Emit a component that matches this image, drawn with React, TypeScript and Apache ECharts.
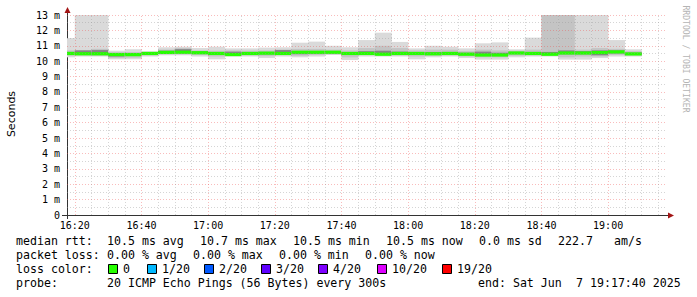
import React, { useEffect, useRef } from "react";
import * as echarts from "echarts";

// ---- data ----
const START_TIME = "16:17:40";
const END_TIME = "19:17:40";
const STEP_MIN = 5;

const stepStarts = [
  "16:15", "16:20", "16:25", "16:30", "16:35", "16:40", "16:45", "16:50", "16:55",
  "17:00", "17:05", "17:10", "17:15", "17:20", "17:25", "17:30", "17:35", "17:40",
  "17:45", "17:50", "17:55", "18:00", "18:05", "18:10", "18:15", "18:20", "18:25",
  "18:30", "18:35", "18:40", "18:45", "18:50", "18:55", "19:00", "19:05",
];
// median rtt (ms)
const medians = [
  10.5, 10.48, 10.48, 10.43, 10.42, 10.5, 10.57, 10.58, 10.55,
  10.5, 10.43, 10.5, 10.52, 10.5, 10.58, 10.58, 10.58, 10.5,
  10.5, 10.45, 10.5, 10.5, 10.48, 10.5, 10.45, 10.4, 10.4,
  10.53, 10.5, 10.45, 10.53, 10.53, 10.56, 10.6, 10.47,
];
// smoke: lowest / highest ping (ms)
const mins = [
  10.25, 10.3, 10.3, 10.12, 10.12, 10.3, 10.38, 10.38, 10.3,
  10.12, 10.3, 10.3, 10.2, 10.3, 10.25, 10.3, 10.4, 10.07,
  10.3, 10.3, 10.3, 10.12, 10.25, 10.3, 10.2, 10.1, 10.1,
  10.25, 10.3, 10.3, 10.1, 10.1, 10.2, 10.3, 10.3,
];
const maxs = [
  11.5, 13.4, 13.4, 10.68, 10.77, 10.64, 10.9, 10.94, 10.85,
  10.94, 10.83, 10.83, 10.88, 10.9, 11.2, 11.27, 11.0, 10.9,
  11.37, 11.85, 11.25, 10.83, 11.0, 10.94, 10.83, 11.16, 11.22,
  10.77, 11.53, 13.4, 13.4, 13.4, 13.4, 11.37, 10.77,
];
// smoke: second band
const lo1 = [
  10.35, 10.38, 10.35, 10.2, 10.22, 10.38, 10.45, 10.45, 10.4,
  10.3, 10.36, 10.38, 10.32, 10.4, 10.35, 10.4, 10.45, 10.25,
  10.4, 10.38, 10.38, 10.3, 10.35, 10.38, 10.3, 10.25, 10.25,
  10.35, 10.38, 10.35, 10.25, 10.3, 10.3, 10.4, 10.38,
];
const hi1 = [
  10.7, 10.72, 10.8, 10.58, 10.6, 10.6, 10.75, 10.85, 10.7,
  10.68, 10.7, 10.68, 10.7, 10.75, 10.8, 10.8, 10.75, 10.7,
  10.85, 11.0, 10.85, 10.7, 10.75, 10.75, 10.65, 10.75, 10.7,
  10.68, 10.75, 13.4, 13.4, 10.75, 10.85, 10.8, 10.65,
];
// smoke: inner band
const lo2 = [
  10.45, 10.42, 10.42, 10.3, 10.36, 10.45, 10.5, 10.52, 10.48,
  10.42, 10.4, 10.45, 10.45, 10.45, 10.45, 10.48, 10.5, 10.42,
  10.45, 10.42, 10.45, 10.45, 10.42, 10.45, 10.4, 10.35, 10.35,
  10.48, 10.45, 10.4, 10.45, 10.45, 10.38, 10.5, 10.42,
];
const hi2 = [
  10.6, 10.7, 10.72, 10.5, 10.5, 10.55, 10.68, 10.78, 10.62,
  10.58, 10.62, 10.58, 10.6, 10.72, 10.65, 10.65, 10.65, 10.58,
  10.65, 10.68, 10.62, 10.58, 10.6, 10.6, 10.55, 10.62, 10.55,
  10.6, 10.6, 10.6, 10.7, 10.65, 10.7, 10.7, 10.55,
];

const xTickLabels = ["16:20", "16:40", "17:00", "17:20", "17:40", "18:00", "18:20", "18:40", "19:00"];
const yMax = 13;

const rttRow = [
  ["median rtt:", 16],
  ["10.5 ms avg", 107],
  ["10.7 ms max", 200],
  ["10.5 ms min", 293],
  ["10.5 ms now", 386],
  ["0.0 ms sd", 479],
  ["222.7", 558],
  ["am/s", 614],
];
const lossRow = [
  ["packet loss:", 16],
  ["0.00 % avg", 107],
  ["0.00 % max", 193],
  ["0.00 % min", 279],
  ["0.00 % now", 365],
];
const lossColorLabels = ["0", "1/20", "2/20", "3/20", "4/20", "10/20", "19/20"];
const lossColors = ["#26ff00", "#00b8ff", "#0059ff", "#5e00ff", "#7e00ff", "#dd00ff", "#ff0000"];
const lossBoxX = [108, 147, 204, 261, 318, 377, 442];
const probeRow = [
  ["probe:", 16],
  ["20 ICMP Echo Pings (56 Bytes) every 300s", 107],
  ["end: Sat Jun", 478],
  ["7 19:17:40 2025", 576],
];

// ---- helpers ----
const toMin = (s: string) => {
  const p = s.split(":").map(Number);
  return p[0] * 60 + p[1] + (p[2] || 0) / 60;
};
const fmtMin = (v: number) => {
  const h = Math.floor(v / 60);
  const m = Math.round(v - h * 60);
  return `${h}:${m < 10 ? "0" : ""}${m}`;
};

const MONO = "DejaVu Sans Mono";

export default function App() {
  const ref = useRef<HTMLDivElement>(null);

  useEffect(() => {
    if (!ref.current) return;
    const chart = echarts.init(ref.current, null, { renderer: "svg" });
    const xMin = toMin(START_TIME);
    const xMax = toMin(END_TIME);
    const majorX = xTickLabels.map(toMin);
    const minorX: number[] = [];
    for (let t = Math.ceil(xMin / STEP_MIN) * STEP_MIN; t < xMax; t += STEP_MIN) {
      if (!majorX.includes(t)) minorX.push(t);
    }
    const majorY: number[] = [];
    const minorY: number[] = [];
    for (let v = 1; v <= yMax; v++) majorY.push(v);
    for (let v = 0.5; v < yMax; v += 1) minorY.push(v);

    const majorColor = "rgba(240,80,80,0.38)";
    const minorColor = "rgba(150,150,150,0.4)";
    const dash = [1, 2];

    const smokeData = stepStarts.map((t, i) => [
      toMin(t), mins[i], lo1[i], lo2[i], medians[i], hi2[i], hi1[i], maxs[i],
    ]);

    const bands: [number, number, string][] = [
      [1, 7, "#dadada"],
      [2, 6, "#c4c4c4"],
      [3, 5, "#858585"],
    ];

    const legendText = (text: string, x: number, y: number) => ({
      type: "text",
      x,
      y,
      silent: true,
      style: { text, fill: "#000", font: `11.6px '${MONO}'`, verticalAlign: "middle", align: "left" },
    });

    const graphics: any[] = [];
    rttRow.forEach(([t, x]) => graphics.push(legendText(t as string, x as number, 241)));
    lossRow.forEach(([t, x]) => graphics.push(legendText(t as string, x as number, 255)));
    graphics.push(legendText("loss color:", 16, 269));
    lossColorLabels.forEach((lab, i) => {
      graphics.push({
        type: "rect",
        silent: true,
        shape: { x: lossBoxX[i] + 0.5, y: 264.5, width: 9, height: 9 },
        style: { fill: lossColors[i], stroke: "#000", lineWidth: 1 },
      });
      graphics.push(legendText(lab, lossBoxX[i] + 15, 269));
    });
    probeRow.forEach(([t, x]) => graphics.push(legendText(t as string, x as number, 283)));

    // axes lines and arrows
    graphics.push({ type: "line", silent: true, shape: { x1: 62, y1: 215.5, x2: 669, y2: 215.5 }, style: { stroke: "#333", lineWidth: 1 } });
    graphics.push({ type: "line", silent: true, shape: { x1: 67.5, y1: 219, x2: 67.5, y2: 12 }, style: { stroke: "#333", lineWidth: 1 } });
    graphics.push({ type: "polygon", silent: true, shape: { points: [[64.5, 13], [70.5, 13], [67.5, 7]] }, style: { fill: "#a31515" } });
    graphics.push({ type: "polygon", silent: true, shape: { points: [[668, 212.5], [668, 218.5], [674, 215.5]] }, style: { fill: "#a31515" } });

    graphics.push({
      type: "text",
      x: 11,
      y: 114,
      rotation: Math.PI / 2,
      silent: true,
      style: { text: "Seconds", fill: "#000", font: "11px 'DejaVu Sans'", align: "center", verticalAlign: "middle" },
    });
    graphics.push({
      type: "text",
      x: 686,
      y: 59,
      rotation: -Math.PI / 2,
      silent: true,
      style: { text: "RRDTOOL / TOBI OETIKER", fill: "#b4b4b4", font: `8.1px '${MONO}'`, align: "center", verticalAlign: "middle" },
    });

    const markData: any[] = [];
    minorY.forEach((v) => markData.push({ yAxis: v, lineStyle: { color: minorColor, type: dash, width: 1 } }));
    majorY.forEach((v) => markData.push({ yAxis: v, lineStyle: { color: majorColor, type: dash, width: 1 } }));
    minorX.forEach((v) => markData.push({ xAxis: v, lineStyle: { color: minorColor, type: dash, width: 1 } }));
    majorX.forEach((v) => markData.push({ xAxis: v, lineStyle: { color: majorColor, type: dash, width: 1 } }));

    chart.setOption({
      animation: false,
      backgroundColor: "#fff",
      textStyle: { fontFamily: MONO },
      grid: { left: 67, top: 15, width: 600, height: 200, containLabel: false },
      xAxis: {
        type: "value",
        min: xMin,
        max: xMax,
        splitNumber: 9,
        axisLine: { show: false },
        axisTick: { show: false },
        splitLine: { show: false },
        axisLabel: {
          customValues: majorX,
          formatter: (v: number) => fmtMin(v),
          color: "#000",
          fontFamily: MONO,
          fontSize: 10,
          margin: 5,
        },
      },
      yAxis: {
        type: "value",
        min: 0,
        max: yMax,
        interval: 1,
        axisLine: { show: false },
        axisTick: { show: false },
        splitLine: { show: false },
        axisLabel: {
          formatter: (v: number) => (v === 0 ? "0" : `${v} m`),
          color: "#000",
          fontFamily: MONO,
          fontSize: 10,
          margin: 7,
        },
      },
      graphic: graphics,
      series: [
        {
          type: "custom",
          z: 2,
          silent: true,
          encode: { x: 0, y: 4 },
          data: smokeData,
          renderItem: (params: any, api: any) => {
            const t0 = api.value(0) as number;
            const t1 = t0 + STEP_MIN;
            const cs = params.coordSys;
            const box = { x: cs.x, y: cs.y, width: cs.width, height: cs.height };
            const children: any[] = [];
            for (const [a, b, color] of bands) {
              const p0 = api.coord([t0, api.value(a)]);
              const p1 = api.coord([t1, api.value(b)]);
              const r = echarts.graphic.clipRectByRect(
                { x: p0[0], y: p1[1], width: p1[0] - p0[0] + 0.3, height: p0[1] - p1[1] },
                box
              );
              if (r) children.push({ type: "rect", shape: r, style: { fill: color } });
            }
            const m0 = api.coord([t0, api.value(4)]);
            const m1 = api.coord([t1, api.value(4)]);
            const mr = echarts.graphic.clipRectByRect(
              { x: m0[0], y: m0[1] - 1.6, width: m1[0] - m0[0] + 0.3, height: 3.2 },
              box
            );
            if (mr) children.push({ type: "rect", shape: mr, style: { fill: lossColors[0] } });
            return { type: "group", children };
          },
        },
        {
          type: "line",
          z: 10,
          silent: true,
          data: [[xMin, 0]],
          showSymbol: false,
          lineStyle: { width: 0 },
          markLine: {
            silent: true,
            animation: false,
            symbol: ["none", "none"],
            label: { show: false },
            emphasis: { disabled: true },
            data: markData,
          },
        },
      ],
    });
    return () => chart.dispose();
  }, []);

  return (
    <div
      ref={ref}
      style={{ position: "absolute", left: 0, top: 0, width: 697, height: 297, background: "#fff" }}
    />
  );
}
